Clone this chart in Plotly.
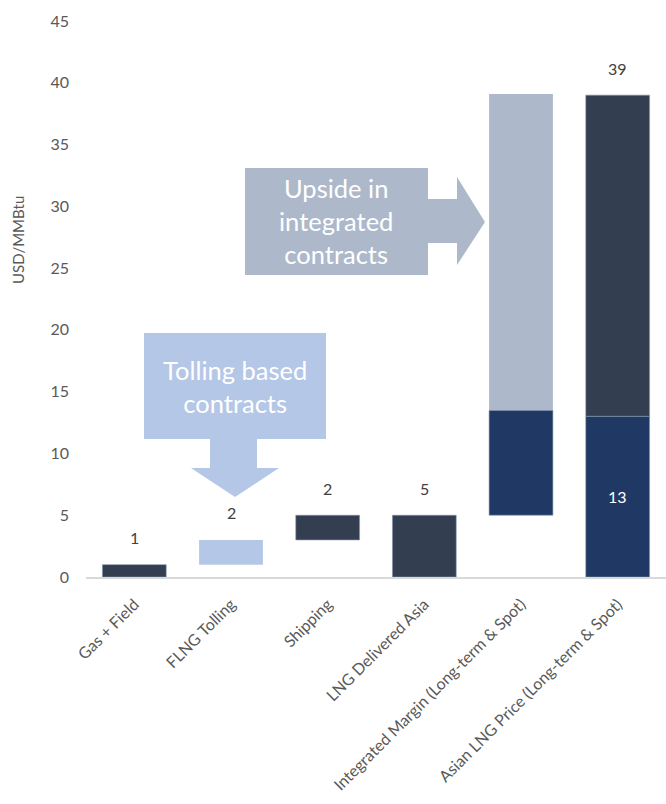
import plotly.graph_objects as go

categories = ["Gas + Field", "FLNG Tolling", "Shipping", "LNG Delivered Asia",
              "Integrated Margin (Long-term & Spot)", "Asian LNG Price (Long-term & Spot)"]

# segments: (category, base, value)
dark_cats = ["Gas + Field", "Shipping", "LNG Delivered Asia", "Asian LNG Price (Long-term & Spot)"]
dark_base = [0, 3, 0, 13]
dark_vals = [1, 2, 5, 26]

tolling_cats = ["FLNG Tolling"]
tolling_base = [1]
tolling_vals = [2]

navy_cats = ["Integrated Margin (Long-term & Spot)", "Asian LNG Price (Long-term & Spot)"]
navy_base = [5, 0]
navy_vals = [8.5, 13]

upside_cats = ["Integrated Margin (Long-term & Spot)"]
upside_base = [13.5]
upside_vals = [25.6]

label_cats = ["Gas + Field", "FLNG Tolling", "Shipping", "LNG Delivered Asia",
              "Asian LNG Price (Long-term & Spot)"]
label_tops = [1, 3, 5, 5, 39]
label_text = ["1", "2", "2", "5", "39"]

FONT = "Lato, Carlito, 'Open Sans', sans-serif"
W, H = 666, 804
L, R, T, B = 86, 0, 21, 227

fig = go.Figure()
bw = 0.66
fig.add_trace(go.Bar(x=dark_cats, y=dark_vals, base=dark_base, width=bw,
                     marker=dict(color="#333F50", line=dict(width=0.6, color="#8497B0"))))
fig.add_trace(go.Bar(x=tolling_cats, y=tolling_vals, base=tolling_base, width=bw,
                     marker=dict(color="#B4C7E7", line=dict(width=0))))
fig.add_trace(go.Bar(x=navy_cats, y=navy_vals, base=navy_base, width=bw,
                     marker=dict(color="#203864", line=dict(width=0.6, color="#8497B0"))))
fig.add_trace(go.Bar(x=upside_cats, y=upside_vals, base=upside_base, width=bw,
                     marker=dict(color="#ADB9CA", line=dict(width=0))))

for c, t, s in zip(label_cats, label_tops, label_text):
    fig.add_annotation(x=c, y=t, text=s, showarrow=False, yshift=27,
                       font=dict(family=FONT, size=16, color="#404040"))
fig.add_annotation(x=navy_cats[1], y=navy_vals[1] / 2, text="13", showarrow=False,
                   font=dict(family=FONT, size=16, color="white"))

pw, ph = W - L - R, H - T - B
def px(x):
    return (x - L) / pw
def py(y):
    return (H - B - y) / ph

def path(pts):
    return "M " + " L ".join(f"{px(a):.4f},{py(b):.4f}" for a, b in pts) + " Z"

# Right arrow "Upside in integrated contracts"
right_arrow = [(245, 168), (428, 168), (428, 199), (457, 199), (457, 177), (485, 222),
               (457, 265), (457, 243), (428, 243), (428, 275), (245, 275)]
# Down arrow "Tolling based contracts"
down_arrow = [(144, 333), (326, 333), (326, 439), (257, 439), (257, 468), (279, 468),
              (235, 497), (191, 468), (210, 468), (210, 439), (144, 439)]
fig.add_shape(type="path", xref="paper", yref="paper", path=path(right_arrow),
              fillcolor="#ADB9CA", line=dict(width=0), layer="above")
fig.add_shape(type="path", xref="paper", yref="paper", path=path(down_arrow),
              fillcolor="#B4C7E7", line=dict(width=0), layer="above")

fig.add_annotation(xref="paper", yref="paper", x=px(336), y=py(221),
                   xanchor="center", yanchor="middle",
                   text="Upside in<br>integrated<br>contracts", showarrow=False,
                   font=dict(family=FONT, size=25.5, color="white"), align="center")
fig.add_annotation(xref="paper", yref="paper", x=px(235), y=py(386),
                   xanchor="center", yanchor="middle",
                   text="Tolling based<br>contracts", showarrow=False,
                   font=dict(family=FONT, size=25.5, color="white"), align="center")

# y-axis title
fig.add_annotation(xref="paper", yref="paper", x=px(18), y=py(240),
                   xanchor="center", yanchor="middle", textangle=-90,
                   text="USD/MMBtu", showarrow=False,
                   font=dict(family=FONT, size=15, color="#595959"))

fig.update_layout(
    width=W, height=H, margin=dict(l=L, r=R, t=T, b=B),
    barmode="overlay", showlegend=False,
    plot_bgcolor="white", paper_bgcolor="white",
    font=dict(family=FONT, size=16, color="#595959"),
    xaxis=dict(categoryorder="array", categoryarray=categories, tickangle=-45,
               showline=True, linecolor="#D9D9D9", linewidth=1.5, ticks="",
               showgrid=False, ticklabelstandoff=10,
               tickfont=dict(size=16, color="#595959")),
    yaxis=dict(range=[0, 45], dtick=5, showgrid=False, zeroline=False, showline=False,
               ticks="", ticklabelstandoff=16,
               tickfont=dict(size=16, color="#595959")),
)

fig.write_html("out.html")
